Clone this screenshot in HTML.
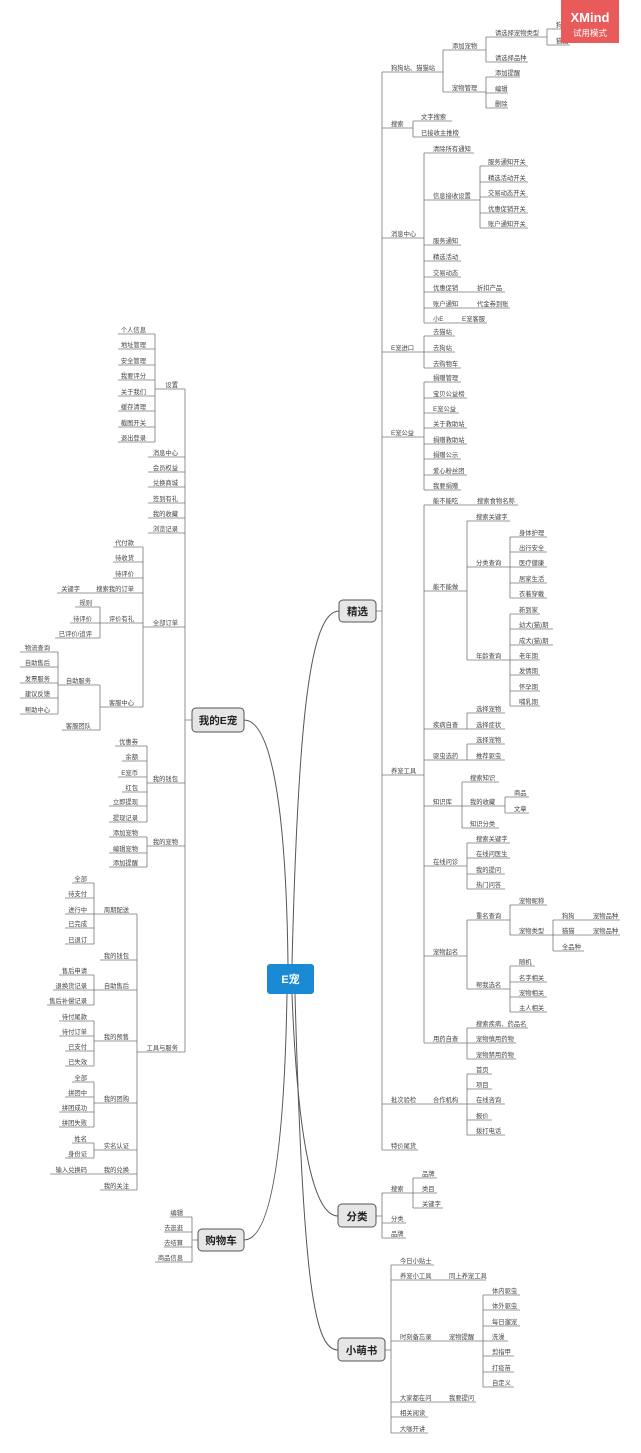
<!DOCTYPE html>
<html><head><meta charset="utf-8"><style>
html,body{margin:0;padding:0;background:#fff;}
svg{display:block;font-family:"Liberation Sans","Noto Sans CJK SC",sans-serif;}
.t{font-size:6.3px;fill:#444;}
.e{text-anchor:end;}
.l{fill:none;stroke:#777;stroke-width:0.8;}
.c{fill:none;stroke:#555;stroke-width:1;}
.b{fill:#e6e6e6;stroke:#555;stroke-width:1;}
.bt{font-size:10.5px;font-weight:bold;fill:#222;text-anchor:middle;}
</style></head><body>
<svg width="641" height="1453" viewBox="0 0 641 1453" xmlns="http://www.w3.org/2000/svg">
<rect width="641" height="1453" fill="#fff"/>
<!-- curves -->
<path class="c" d="M292,964 C298,720 310,611 339,611"/>
<path class="c" d="M288,964 C286,800 270,720 244,720"/>
<path class="c" d="M292,994 C298,1150 315,1216 338,1216"/>
<path class="c" d="M287,994 C284,1170 268,1240 244,1240"/>
<path class="c" d="M295,994 C303,1290 315,1350 338,1350"/>
<!-- right lines -->
<path class="l" d="M382,72V1150 M376,611H382
M382,72H443 M443,50V92 M443,50H486 M486,37V62 M486,37H547 M547,29V45 M547,29H570 M547,45H570 M486,62H528 M443,92H486 M486,77V108 M486,77H520 M486,93H508 M486,108H508
M382,128H413 M413,121V137 M413,121H452 M413,137H460
M382,238H424 M424,153V323 M424,153H474 M424,200H480 M480,166V228 M480,166H528 M480,182H528 M480,197H528 M480,213H528 M480,228H528 M424,245H461 M424,261H461 M424,277H461 M424,292H505 M424,308H510 M424,323H487
M382,352H424 M424,336V368 M424,336H455 M424,352H455 M424,368H461
M382,437H424 M424,382V490 M424,382H461 M424,398H467 M424,413H459 M424,428H467 M424,444H467 M424,459H461 M424,475H467 M424,490H461
M382,775H424 M424,505V1043 M424,505H518 M424,591H467 M467,521V660 M467,521H510 M467,567H510 M510,537V598 M510,537H547 M510,552H547 M510,567H547 M510,583H547 M510,598H547 M467,660H510 M510,614V706 M510,614H540 M510,629H553 M510,645H553 M510,660H540 M510,675H540 M510,691H540 M510,706H540
M424,729H467 M467,713V729 M467,713H505 M467,729H505
M424,760H467 M467,744V760 M467,744H505 M467,760H505
M424,806H462 M462,782V828 M462,782H499 M462,806H505 M505,797V813 M505,797H529 M505,813H529 M462,828H499
M424,866H467 M467,843V889 M467,843H510 M467,858H510 M467,874H505 M467,889H505
M424,956H467 M467,920V989 M467,920H510 M510,905V935 M510,905H547 M510,935H553 M553,920V951 M553,920H620 M553,935H620 M553,951H584 M467,989H510 M510,966V1012 M510,966H535 M510,982H547 M510,997H547 M510,1012H547
M424,1043H467 M467,1028V1059 M467,1028H528 M467,1043H516 M467,1059H516
M382,1104H467 M467,1074V1135 M467,1074H492 M467,1089H492 M467,1104H505 M467,1120H492 M467,1135H505
M382,1150H418
M376,1216H382 M382,1193V1238 M382,1193H413 M413,1178V1208 M413,1178H437 M413,1193H437 M413,1208H443 M382,1223H406 M382,1238H406
M385,1350H391 M391,1265V1433 M391,1265H434 M391,1280H486 M391,1341H483 M483,1295V1387 M483,1295H520 M483,1310H520 M483,1326H520 M483,1341H508 M483,1356H514 M483,1372H514 M483,1387H514 M391,1402H476 M391,1417H428 M391,1433H428"/>
<!-- left lines -->
<path class="l" d="M185,389V1052 M185,720H192
M185,389H155 M155,334V442 M155,334H118 M155,349H118 M155,365H118 M155,380H118 M155,396H118 M155,411H118 M155,427H118 M155,442H118
M185,457H148 M185,472H148 M185,487H148 M185,503H148 M185,518H148 M185,533H148
M185,627H143 M143,547V707 M143,547H113 M143,562H113 M143,578H113 M143,593H57 M143,623H100 M100,607V638 M100,607H75 M100,623H70 M100,638H55 M143,707H100 M100,685V730 M100,685H58 M58,652V714 M58,652H20 M58,667H20 M58,683H20 M58,698H20 M58,714H20 M100,730H62
M185,783H147 M147,746V822 M147,746H115 M147,761H122 M147,777H118 M147,792H122 M147,806H109 M147,822H109
M185,846H147 M147,837V867 M147,837H109 M147,853H109 M147,867H109
M185,1052H137 M137,914V1190 M137,914H94 M94,883V944 M94,883H72 M94,898H65 M94,914H65 M94,928H65 M94,944H65
M137,960H100 M137,990H94 M94,975V1005 M94,975H59 M94,990H53 M94,1005H47
M137,1041H94 M94,1021V1066 M94,1021H59 M94,1036H59 M94,1051H65 M94,1066H65
M137,1103H94 M94,1082V1127 M94,1082H72 M94,1097H65 M94,1112H59 M94,1127H59
M137,1150H94 M94,1143V1158 M94,1143H72 M94,1158H65 M137,1174H50 M137,1190H100
M198,1240H192 M192,1217V1262 M192,1217H170 M192,1232H164 M192,1247H164 M192,1262H155"/>
<!-- right texts -->
<g class="t">
<text x="391" y="70">狗狗站、猫猫站</text><text x="452" y="48">添加宠物</text><text x="495" y="35">请选择宠物类型</text><text x="556" y="27">狗狗</text><text x="556" y="43">猫猫</text><text x="495" y="60">请选择品种</text><text x="452" y="90">宠物管理</text><text x="495" y="75">添加提醒</text><text x="495" y="91">编辑</text><text x="495" y="106">删除</text>
<text x="391" y="126">搜索</text><text x="421" y="119">文字搜索</text><text x="421" y="135">已接收主推榜</text>
<text x="391" y="236">消息中心</text><text x="433" y="151">清除所有通知</text><text x="433" y="198">信息接收设置</text>
<text x="488" y="164">服务通知开关</text><text x="488" y="180">精选活动开关</text><text x="488" y="195">交易动态开关</text><text x="488" y="211">优惠促销开关</text><text x="488" y="226">账户通知开关</text>
<text x="433" y="243">服务通知</text><text x="433" y="259">精选活动</text><text x="433" y="275">交易动态</text><text x="433" y="290">优惠促销</text><text x="477" y="290">折扣产品</text><text x="433" y="306">账户通知</text><text x="477" y="306">代金券到账</text><text x="433" y="321">小E</text><text x="462" y="321">E宠客服</text>
<text x="391" y="350">E宠进口</text><text x="433" y="334">去猫站</text><text x="433" y="350">去狗站</text><text x="433" y="366">去购物车</text>
<text x="391" y="435">E宠公益</text><text x="433" y="380">捐赠管理</text><text x="433" y="396">宝贝公益榜</text><text x="433" y="411">E宠公益</text><text x="433" y="426">关于救助站</text><text x="433" y="442">捐赠救助站</text><text x="433" y="457">捐赠公示</text><text x="433" y="473">爱心粉丝团</text><text x="433" y="488">我要捐赠</text>
<text x="391" y="773">养宠工具</text><text x="433" y="503">能不能吃</text><text x="477" y="503">搜索食物名称</text><text x="433" y="589">能不能做</text><text x="476" y="519">搜索关键字</text><text x="476" y="565">分类查询</text>
<text x="519" y="535">身体护理</text><text x="519" y="550">出行安全</text><text x="519" y="565">医疗健康</text><text x="519" y="581">居家生活</text><text x="519" y="596">衣着穿戴</text>
<text x="476" y="658">年龄查询</text><text x="519" y="612">新到家</text><text x="519" y="627">幼犬(猫)期</text><text x="519" y="643">成犬(猫)期</text><text x="519" y="658">老年期</text><text x="519" y="673">发情期</text><text x="519" y="689">怀孕期</text><text x="519" y="704">哺乳期</text>
<text x="433" y="727">疾病自查</text><text x="476" y="711">选择宠物</text><text x="476" y="727">选择症状</text><text x="433" y="758">驱虫选药</text><text x="476" y="742">选择宠物</text><text x="476" y="758">推荐驱虫</text>
<text x="433" y="804">知识库</text><text x="470" y="780">搜索知识</text><text x="470" y="804">我的收藏</text><text x="514" y="795">商品</text><text x="514" y="811">文章</text><text x="470" y="826">知识分类</text>
<text x="433" y="864">在线问诊</text><text x="476" y="841">搜索关键字</text><text x="476" y="856">在线问医生</text><text x="476" y="872">我的提问</text><text x="476" y="887">热门问答</text>
<text x="433" y="954">宠物起名</text><text x="476" y="918">重名查询</text><text x="519" y="903">宠物昵称</text><text x="519" y="933">宠物类型</text><text x="562" y="918">狗狗</text><text x="593" y="918">宠物品种</text><text x="562" y="933">猫猫</text><text x="593" y="933">宠物品种</text><text x="562" y="949">全品种</text>
<text x="476" y="987">帮我选名</text><text x="519" y="964">随机</text><text x="519" y="980">名字相关</text><text x="519" y="995">宠物相关</text><text x="519" y="1010">主人相关</text>
<text x="433" y="1041">用药自查</text><text x="476" y="1026">搜索疾病、药品名</text><text x="476" y="1041">宠物慎用药物</text><text x="476" y="1057">宠物禁用药物</text>
<text x="391" y="1102">批次验检</text><text x="433" y="1102">合作机构</text><text x="476" y="1072">首页</text><text x="476" y="1087">项目</text><text x="476" y="1102">在线咨询</text><text x="476" y="1118">报价</text><text x="476" y="1133">拨打电话</text>
<text x="391" y="1148">特价尾货</text>
<text x="391" y="1191">搜索</text><text x="422" y="1176">品牌</text><text x="422" y="1191">类目</text><text x="422" y="1206">关键字</text><text x="391" y="1221">分类</text><text x="391" y="1236">品牌</text>
<text x="400" y="1263">今日小贴士</text><text x="400" y="1278">养宠小工具</text><text x="449" y="1278">同上养宠工具</text><text x="400" y="1339">时刻备忘录</text><text x="449" y="1339">宠物提醒</text>
<text x="492" y="1293">体内驱虫</text><text x="492" y="1308">体外驱虫</text><text x="492" y="1324">每日遛宠</text><text x="492" y="1339">洗澡</text><text x="492" y="1354">剪指甲</text><text x="492" y="1370">打疫苗</text><text x="492" y="1385">自定义</text>
<text x="400" y="1400">大家都在问</text><text x="449" y="1400">我要提问</text><text x="400" y="1415">相关阅读</text><text x="400" y="1431">大咖开讲</text>
</g>
<!-- left texts -->
<g class="t e">
<text x="178" y="387">设置</text>
<text x="146" y="332">个人信息</text><text x="146" y="347">地址管理</text><text x="146" y="363">安全管理</text><text x="146" y="378">我要评分</text><text x="146" y="394">关于我们</text><text x="146" y="409">缓存清理</text><text x="146" y="425">截图开关</text><text x="146" y="440">退出登录</text>
<text x="178" y="455">消息中心</text><text x="178" y="470">会员权益</text><text x="178" y="485">兑换商城</text><text x="178" y="501">签到有礼</text><text x="178" y="516">我的收藏</text><text x="178" y="531">浏览记录</text><text x="178" y="625">全部订单</text><text x="178" y="781">我的钱包</text><text x="178" y="844">我的宠物</text><text x="178" y="1050">工具与服务</text>
<text x="134" y="545">代付款</text><text x="134" y="560">待收货</text><text x="134" y="576">待评价</text><text x="134" y="591">搜索我的订单</text><text x="134" y="621">评价有礼</text><text x="134" y="705">客服中心</text>
<text x="80" y="591">关键字</text><text x="92" y="605">规则</text><text x="92" y="621">待评价</text><text x="92" y="636">已评价/追评</text><text x="91" y="683">自助服务</text><text x="91" y="728">客服团队</text>
<text x="50" y="650">物流查询</text><text x="50" y="665">自助售后</text><text x="50" y="681">发票服务</text><text x="50" y="696">建议反馈</text><text x="50" y="712">帮助中心</text>
<text x="138" y="744">优惠券</text><text x="138" y="759">余额</text><text x="138" y="775">E宠币</text><text x="138" y="790">红包</text><text x="138" y="804">立即提现</text><text x="138" y="820">提现记录</text>
<text x="138" y="835">添加宠物</text><text x="138" y="851">编辑宠物</text><text x="138" y="865">添加提醒</text>
<text x="129" y="912">周期配送</text><text x="129" y="958">我的钱包</text><text x="129" y="988">自助售后</text><text x="129" y="1039">我的预售</text><text x="129" y="1101">我的团购</text><text x="129" y="1148">实名认证</text><text x="129" y="1172">我的兑换</text><text x="129" y="1188">我的关注</text>
<text x="87" y="881">全部</text><text x="87" y="896">待支付</text><text x="87" y="912">进行中</text><text x="87" y="926">已完成</text><text x="87" y="942">已退订</text>
<text x="87" y="973">售后申请</text><text x="87" y="988">退换货记录</text><text x="87" y="1003">售后补偿记录</text>
<text x="87" y="1019">待付尾款</text><text x="87" y="1034">待付订单</text><text x="87" y="1049">已支付</text><text x="87" y="1064">已失效</text>
<text x="87" y="1080">全部</text><text x="87" y="1095">拼团中</text><text x="87" y="1110">拼团成功</text><text x="87" y="1125">拼团失败</text>
<text x="87" y="1141">姓名</text><text x="87" y="1156">身份证</text><text x="87" y="1172">输入兑换码</text>
<text x="183" y="1215">编辑</text><text x="183" y="1230">去逛逛</text><text x="183" y="1245">去结算</text><text x="183" y="1260">商品信息</text>
</g>
<!-- main boxes -->
<rect class="b" x="339" y="600" width="37" height="22" rx="4"/><text class="bt" x="357.5" y="615">精选</text>
<rect class="b" x="192" y="708" width="52" height="24" rx="4"/><text class="bt" x="218" y="724">我的E宠</text>
<rect class="b" x="338" y="1204" width="38" height="23" rx="4"/><text class="bt" x="357" y="1220">分类</text>
<rect class="b" x="198" y="1229" width="46" height="22" rx="4"/><text class="bt" x="221" y="1244">购物车</text>
<rect class="b" x="338" y="1338" width="47" height="23" rx="4"/><text class="bt" x="361.5" y="1354">小萌书</text>
<rect x="267" y="964" width="47" height="30" rx="3" fill="#1a8ad4"/><text x="290.5" y="983" style="font-size:11px;font-weight:bold;fill:#fff;text-anchor:middle">E宠</text>
<!-- watermark -->
<rect x="561" y="0" width="58" height="43" fill="#e95b5b"/>
<text x="590" y="22" style="font-size:13px;font-weight:bold;fill:#fff;text-anchor:middle">XMind</text>
<text x="590" y="36" style="font-size:8.5px;fill:#fff;text-anchor:middle">试用模式</text>
</svg>
</body></html>
